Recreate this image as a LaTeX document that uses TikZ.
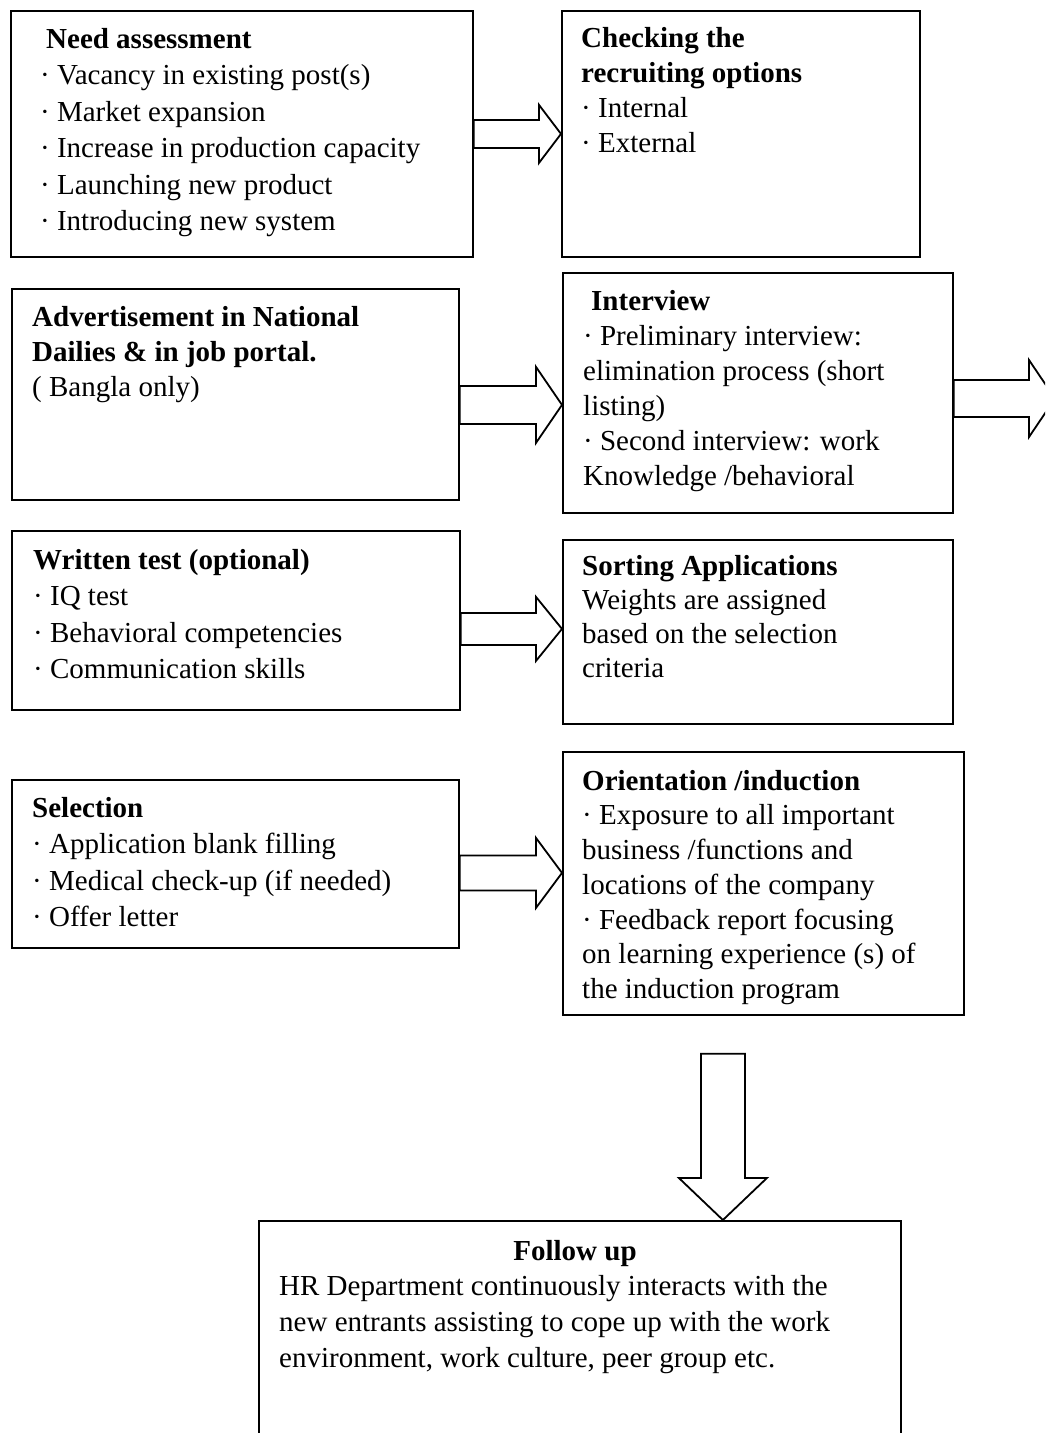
\documentclass[tikz,border=0pt]{standalone}
\usepackage{fontspec}
\setmainfont{Liberation Serif}
\usetikzlibrary{calc}
\newcommand{\blockright}[5]{\draw[blockarr] let \p1=(#1), \p2=(#2) in (\x1,\y2+#3)--(\x2-#5,\y2+#3)--(\x2-#5,\y2+#4)--(\p2)--(\x2-#5,\y2-#4)--(\x2-#5,\y2-#3)--(\x1,\y2-#3)--cycle;}

\begin{document}
\begin{tikzpicture}[x=1pt,y=-1pt,
stage/.style={draw,line width=1.8pt,inner sep=0pt,anchor=north west},
txt/.style={anchor=north west,inner sep=0pt,align=left,font=\fontsize{29}{#1}\selectfont},txt/.default=36.5,
blockarr/.style={draw,line width=1.8pt,line join=miter}]
\useasboundingbox (0,0) rectangle (1045,1433);
\clip (0,0) rectangle (1045,1433);
\node[stage,minimum width=462pt,minimum height=246pt] (need) at (10,10){};
\node[stage,minimum width=358pt,minimum height=246pt] (check) at (561,10){};
\node[stage,minimum width=447pt,minimum height=211pt] (advert) at (11,288){};
\node[stage,minimum width=390pt,minimum height=240pt] (interview) at (562,272){};
\node[stage,minimum width=448pt,minimum height=179pt] (written) at (11,530){};
\node[stage,minimum width=390pt,minimum height=184pt] (sorting) at (562,539){};
\node[stage,minimum width=447pt,minimum height=168pt] (selection) at (11,779){};
\node[stage,minimum width=401pt,minimum height=263pt] (orient) at (562,751){};
\node[stage,minimum width=642pt,minimum height=260pt] (follow) at (258,1220){};
\node[txt] (needtxt) at (40,22.5){\strut\hspace*{6pt}\textbf{Need assessment}\\· Vacancy in existing post(s)\\· Market expansion\\· Increase in production capacity\\· Launching new product\\· Introducing new system};
\node[txt=35] (checktxt) at (581,22.5){\strut\textbf{Checking the}\\\textbf{recruiting options}\\· Internal\\· External};
\node[txt=35] (adverttxt) at (32,301.5){\strut\textbf{Advertisement in National}\\\textbf{Dailies \& in job portal.}\\( Bangla only)};
\node[txt=35] (interviewtxt) at (583,285.5){\strut\hspace*{8pt}\textbf{Interview}\\· Preliminary interview:\\elimination process (short\\listing)\\· Second interview: work\\Knowledge /behavioral};
\node[txt] (writtentxt) at (33,543.5){\strut\textbf{Written test (optional)}\\· IQ test\\· Behavioral competencies\\· Communication skills};
\node[txt=34] (sortingtxt) at (582,551.2){\strut\textbf{Sorting Applications}\\Weights are assigned\\based on the selection\\criteria};
\node[txt] (selectiontxt) at (32,791.5){\strut\textbf{Selection}\\· Application blank filling\\· Medical check-up (if needed)\\· Offer letter};
\node[txt=34.7] (orienttxt) at (582,765.7){\strut\textbf{Orientation /induction}\\· Exposure to all important\\business /functions and\\locations of the company\\· Feedback report focusing\\on learning experience (s) of\\the induction program};
\node[anchor=base,inner sep=0pt,font=\fontsize{29}{36}\selectfont] (followhead) at (575,1260){\textbf{Follow up}};
\node[txt=36] (followtxt) at (279,1269.8){\strut HR Department continuously interacts with the\\new entrants assisting to cope up with the work\\environment, work culture, peer group etc.};
\coordinate (nextstep) at (1055,398.5);
\blockright{need.east}{check.west}{14pt}{29pt}{22pt}
\blockright{advert.east}{$(interview.west)+(0,12)$}{19pt}{38pt}{26pt}
\blockright{written.east}{$(sorting.west)+(0,-3)$}{16pt}{32pt}{26pt}
\blockright{selection.east}{$(orient.west)+(0,-10.5)$}{17.5pt}{35pt}{26pt}
\blockright{interview.east}{nextstep}{18.5pt}{38.5pt}{26pt}
\draw[blockarr] let \p1=($(orient.south)+(0,38)$), \p2=($(follow.north)+(143,0)$) in (\x2-22pt,\y1)--(\x2-22pt,\y2+42pt)--(\x2-44pt,\y2+42pt)--(\p2)--(\x2+44pt,\y2+42pt)--(\x2+22pt,\y2+42pt)--(\x2+22pt,\y1)--cycle;
\end{tikzpicture}
\end{document}
